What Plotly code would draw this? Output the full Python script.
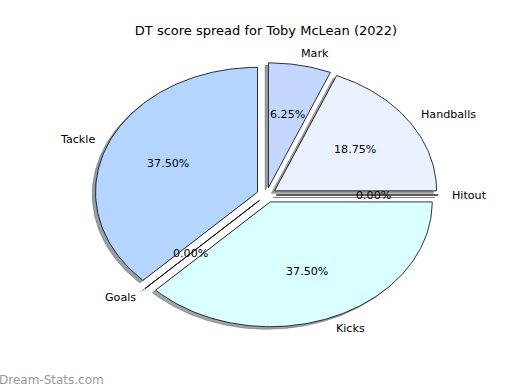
import numpy as np
import plotly.graph_objects as go

labels = ["Mark", "Handballs", "Hitout", "Kicks", "Goals", "Tackle"]
values = [6.25, 18.75, 0.0, 37.5, 0.0, 37.5]
colors = ["#c4d8ff", "#eaf1ff", "#e0e0ff", "#d9ffff", "#d0e8ff", "#b3d5ff"]
explode = [0.06, 0.06, 0.06, 0.06, 0.06, 0.06]
title = "DT score spread for Toby McLean (2022)"
watermark = "Dream-Stats.com"

FONT = "DejaVu Sans"
LBL = 10 * 80 / 72
TTL = 13
total = sum(values)
fracs = [v / total for v in values]

def hex_rgb(h):
    h = h.lstrip("#")
    return tuple(int(h[i:i + 2], 16) for i in (0, 2, 4))

fig = go.Figure()
wedges = []
theta = 90.0
for lab, f, c, e in zip(labels, fracs, colors, explode):
    t1 = theta
    t2 = theta - 360.0 * f
    mid = np.deg2rad((t1 + t2) / 2)
    ox, oy = e * np.cos(mid), e * np.sin(mid)
    n = max(2, int(abs(t1 - t2) / 1.0) + 2)
    ang = np.deg2rad(np.linspace(t1, t2, n))
    xs = np.concatenate([[ox], ox + np.cos(ang), [ox]])
    ys = np.concatenate([[oy], oy + np.sin(ang), [oy]])
    wedges.append((lab, f, c, e, mid, ox, oy, xs, ys))
    theta = t2

# shadows first
for lab, f, c, e, mid, ox, oy, xs, ys in wedges:
    r, g, b = hex_rgb(c)
    sc = "rgba(%d,%d,%d,0.5)" % (int(r * 0.3), int(g * 0.3), int(b * 0.3))
    fig.add_trace(go.Scatter(x=xs - 0.02, y=ys - 0.02, mode="lines", fill="toself",
                             fillcolor=sc, line=dict(color=sc, width=0.8),
                             hoverinfo="skip", showlegend=False))
for lab, f, c, e, mid, ox, oy, xs, ys in wedges:
    fig.add_trace(go.Scatter(x=xs, y=ys, mode="lines", fill="toself",
                             fillcolor=c, line=dict(color="black", width=0.8),
                             hoverinfo="skip", showlegend=False))

annotations = []
for lab, f, c, e, mid, ox, oy, xs, ys in wedges:
    lx = ox + 1.1 * np.cos(mid)
    ly = oy + 1.1 * np.sin(mid)
    left = lx > 0
    annotations.append(dict(x=lx, y=ly, xref="x", yref="y", text=lab, showarrow=False,
                            xanchor="left" if left else "right", yanchor="middle",
                            xshift=-3 if left else 3, borderpad=0,
                            font=dict(family=FONT, size=LBL, color="black")))
    px = ox + 0.6 * np.cos(mid)
    py = oy + 0.6 * np.sin(mid)
    annotations.append(dict(x=px, y=py, xref="x", yref="y", text="%.2f%%" % (f * 100),
                            showarrow=False, xanchor="center", yanchor="middle",
                            font=dict(family=FONT, size=LBL, color="black")))

annotations.append(dict(x=0, y=0, xref="paper", yref="paper", text=watermark,
                        showarrow=False, xanchor="left", yanchor="middle",
                        xshift=-66, yshift=-29, borderpad=0,
                        font=dict(family=FONT, size=12, color="#999999")))

fig.update_layout(
    width=520, height=390,
    margin=dict(l=64, r=51, t=39, b=39),
    paper_bgcolor="white", plot_bgcolor="white",
    xaxis=dict(range=[-1.25, 1.25], visible=False, fixedrange=True),
    yaxis=dict(range=[-1.25, 1.25], visible=False, fixedrange=True),
    title=dict(text=title, x=266 / 520, xanchor="center", xref="container",
               y=1 - 30 / 390, yanchor="middle", yref="container",
               font=dict(family=FONT, size=TTL, color="black")),
    annotations=annotations,
    showlegend=False,
)
fig.write_html("out.html")
